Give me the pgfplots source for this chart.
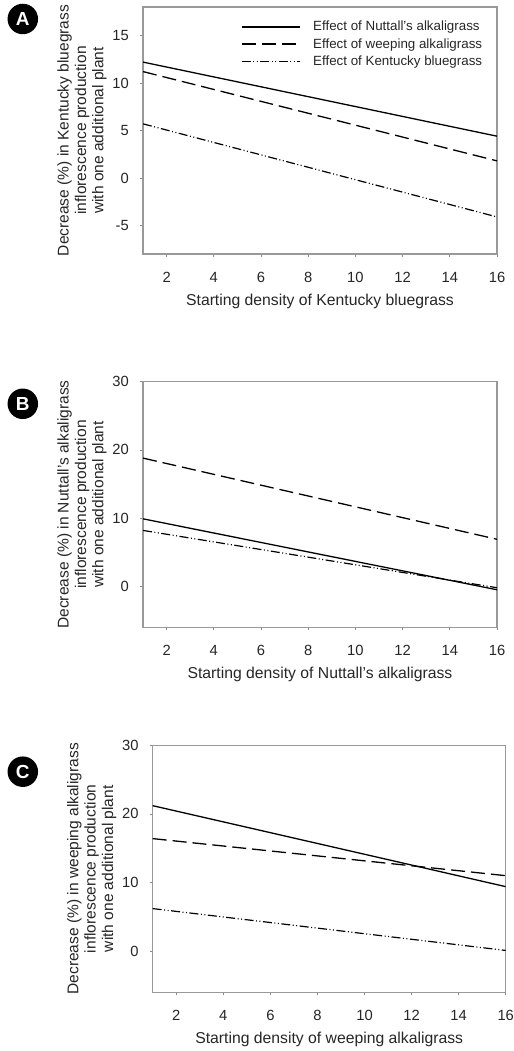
\documentclass[border=0pt]{standalone}
\usepackage{fontspec}
\setmainfont{Liberation Sans}
\usepackage{pgfplots}
\pgfplotsset{compat=1.18}

\pgfplotsset{
 panel/.style={
  scale only axis, width=354bp, height=247bp,
  xmin=1, xmax=16, xtick={2,4,...,16},
  axis line style={draw=black!40, line width=1.1bp},
  tick style={draw=black!45, line width=0.8bp},
  tick align=outside, major tick length=3bp,
  xtick pos=bottom, ytick pos=left,
  /pgf/number format/assume math mode=true,
  tick label style={font=\fontsize{14.8}{16}\selectfont, text=black!85},
  xticklabel style={anchor=base, inner sep=0pt, yshift=-25.5bp},
  yticklabel style={anchor=east, inner sep=0pt, xshift=-11bp},
  xlabel style={at={(axis description cs:0.5,0)}, anchor=base, yshift=-51.5bp,
     font=\fontsize{15.8}{17.5}\selectfont, text=black!85, inner sep=0pt},
  ylabel style={at={([xshift=-61bp]axis description cs:0,0.5)}, anchor=center, rotate=0,
     align=center, font=\fontsize{15.6}{17.5}\selectfont, text=black!85, inner sep=0pt},
 },
 s1/.style={black, line width=1.3bp},
 s2/.style={black, line width=1.3bp, dash pattern=on 14bp off 6bp},
 s3/.style={black, line width=1.2bp, dash pattern=on 9bp off 2.5bp on 1bp off 2.5bp on 1bp off 2.5bp},
}

\begin{document}
\begin{tikzpicture}
\path[use as bounding box] (0,0) rectangle (514bp,1051bp);

% Panel A
\begin{axis}[panel, at={(143bp,797bp)}, anchor=south west,
  ymin=-8, ymax=18, ytick={-5,0,5,10,15},
  xlabel={Starting density of Kentucky bluegrass},
  ylabel={Decrease (\%) in Kentucky bluegrass\\inflorescence production\\with one additional plant},
  legend style={draw=none, fill=none, at={(rel axis cs:0.276,0.947)}, anchor=north west,
     font=\fontsize{13.4}{15}\selectfont, text=black!85, inner sep=0pt, row sep=4bp,
     column sep=12bp, nodes={inner sep=1bp}},
  legend cell align=left,
  legend image code/.code={\draw[#1] (0bp,0bp) -- (58bp,0bp);},
]
\addplot[s1] coordinates {(1,12.2) (16,4.4)};
\addlegendentry{Effect of Nuttall's alkaligrass}
\addplot[s2] coordinates {(1,11.2) (16,1.8)};
\addlegendentry{Effect of weeping alkaligrass}
\addplot[s3] coordinates {(1,5.7) (16,-4.1)};
\addlegendentry{Effect of Kentucky bluegrass}
\end{axis}

% Panel B
\begin{axis}[panel, at={(143bp,423.7bp)}, anchor=south west, height=245.6bp,
  ymin=-6, ymax=30, ytick={0,10,20,30},
  xlabel={Starting density of Nuttall's alkaligrass},
  ylabel={Decrease (\%) in Nuttall's alkaligrass\\inflorescence production\\with one additional plant},
]
\addplot[s2] coordinates {(1,18.8) (16,6.9)};
\addplot[s1] coordinates {(1,9.9) (16,-0.5)};
\addplot[s3] coordinates {(1,8.2) (16,-0.2)};
\end{axis}

% Panel C
\begin{axis}[panel, at={(152.7bp,58.7bp)}, anchor=south west, width=353bp,
  ymin=-6, ymax=30, ytick={0,10,20,30},
  xlabel={Starting density of weeping alkaligrass},
  ylabel={Decrease (\%) in weeping alkaligrass\\inflorescence production\\with one additional plant},
]
\addplot[s1] coordinates {(1,21.2) (16,9.4)};
\addplot[s2] coordinates {(1,16.4) (16,11.0)};
\addplot[s3] coordinates {(1,6.2) (16,0.1)};
\end{axis}

% panel letters
\foreach \L/\y in {A/1032, B/647.2, C/279.3}{
  \node[circle, fill=black, minimum size=30.5bp, inner sep=0pt, text=white,
        font=\bfseries\fontsize{19}{19}\selectfont] at (22.8bp,\y bp) {\L};
}
\end{tikzpicture}
\end{document}
